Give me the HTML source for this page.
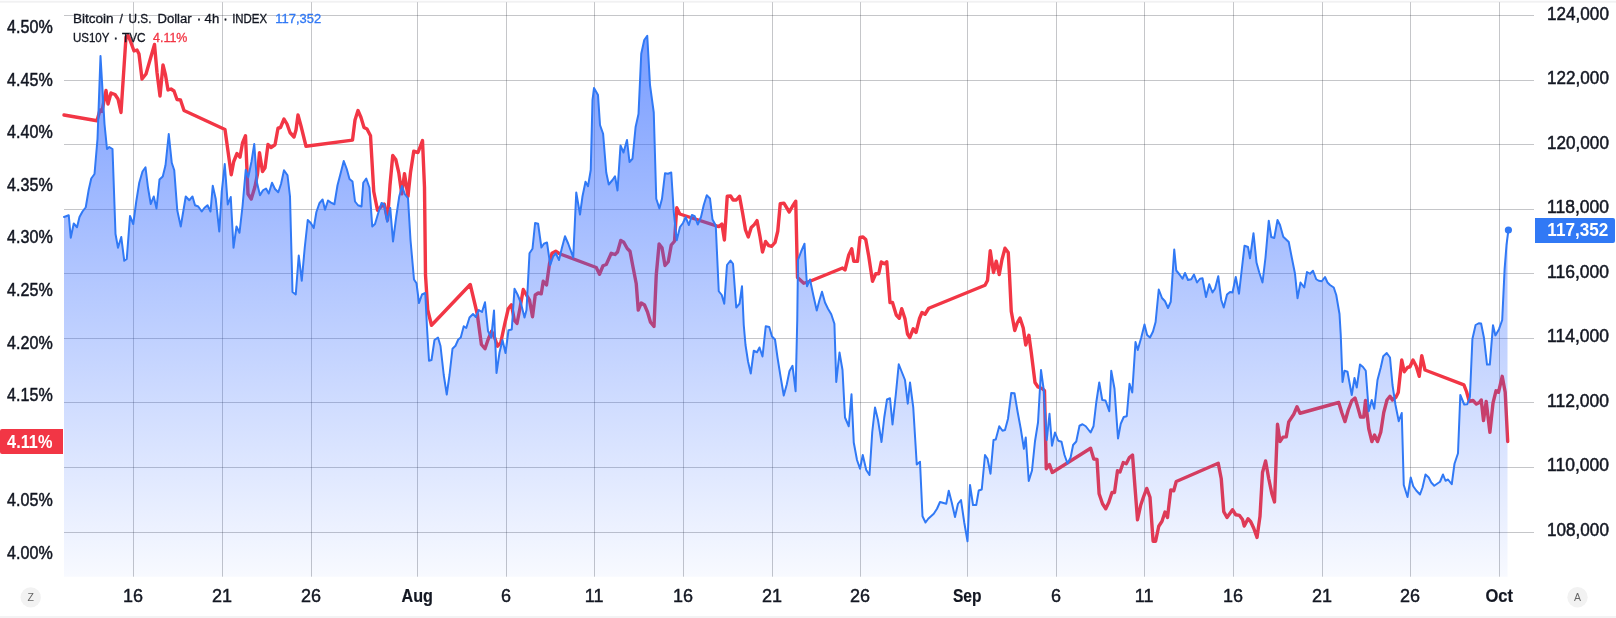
<!DOCTYPE html>
<html><head><meta charset="utf-8"><title>Chart</title>
<style>
html,body{margin:0;padding:0;background:#fff;}
body{width:1616px;height:618px;overflow:hidden;}
svg{display:block;font-family:"Liberation Sans",sans-serif;will-change:transform;}
</style></head><body>
<svg width="1616" height="618" viewBox="0 0 1616 618">
<defs><linearGradient id="ag" gradientUnits="userSpaceOnUse" x1="0" y1="0" x2="0" y2="577"><stop offset="0" stop-color="#2962ff" stop-opacity="0.662"/><stop offset="1" stop-color="#2962ff" stop-opacity="0.033"/></linearGradient></defs>
<rect x="0" y="0" width="1616" height="618" fill="#ffffff"/>
<rect x="0" y="0.8" width="1616" height="1.9" fill="#f1f1f2"/>
<rect x="0" y="616" width="1616" height="2" fill="#f3f3f4"/>
<g fill="rgba(42,46,57,0.27)">
<rect x="64" y="15" width="1470" height="1"/><rect x="64" y="80" width="1470" height="1"/><rect x="64" y="144" width="1470" height="1"/><rect x="64" y="209" width="1470" height="1"/><rect x="64" y="273" width="1470" height="1"/><rect x="64" y="338" width="1470" height="1"/><rect x="64" y="402" width="1470" height="1"/><rect x="64" y="467" width="1470" height="1"/><rect x="64" y="532" width="1470" height="1"/>
<rect x="133" y="2.2" width="1" height="574.5"/><rect x="222" y="2.2" width="1" height="574.5"/><rect x="311" y="2.2" width="1" height="574.5"/><rect x="417" y="2.2" width="1" height="574.5"/><rect x="506" y="2.2" width="1" height="574.5"/><rect x="594" y="2.2" width="1" height="574.5"/><rect x="683" y="2.2" width="1" height="574.5"/><rect x="772" y="2.2" width="1" height="574.5"/><rect x="860" y="2.2" width="1" height="574.5"/><rect x="967" y="2.2" width="1" height="574.5"/><rect x="1056" y="2.2" width="1" height="574.5"/><rect x="1144" y="2.2" width="1" height="574.5"/><rect x="1233" y="2.2" width="1" height="574.5"/><rect x="1322" y="2.2" width="1" height="574.5"/><rect x="1410" y="2.2" width="1" height="574.5"/><rect x="1499" y="2.2" width="1" height="574.5"/>
</g>
<path d="M64,115 L97,120.75 L100,110 L102,111.5 L106,90.5 L108,104 L111,93 L115,94.5 L118,99 L121,112.5 L126,37 L128,35.5 L130,40 L134,51 L137,50 L139,54 L142,79 L146,74 L150,60 L154.5,44.5 L157,72.5 L160,96 L163,65 L165.5,75 L168,90 L171,89 L174,91 L177,99.5 L180.5,100 L184,110.5 L225,129.5 L231.25,174.75 L233.75,161.5 L237,153.5 L240,157.25 L242.5,143 L245.5,135.75 L248,194 L251.25,199 L255,186.5 L257.5,174 L259.5,152.75 L262.5,171.5 L265,167.75 L268,144.5 L271,147.5 L275,144.75 L278,128.25 L280.5,127.5 L284,119 L287,124 L290,132.5 L294,137 L296,130 L298,115 L301,126 L306,146.25 L352.5,140.1 L355,120 L358,110.5 L361,117.5 L364,127.5 L367,129 L370.5,135.75 L373.75,191.5 L377.5,210.25 L381.25,206.5 L384.25,204 L387.5,220.25 L390,185 L392.75,155.5 L395.75,159.5 L398.75,172.6 L401.75,193.9 L404.5,173.75 L408,196.25 L410.5,172.5 L413.75,151.25 L418,152.5 L422.5,140.5 L424.5,187.5 L425.5,275 L427.75,310 L431.5,325.25 L470.25,284.5 L477.25,314 L481.4,344.5 L485,348.75 L488.1,339.5 L491.6,331.25 L494.75,338 L497.6,346.25 L500.75,342.5 L504.5,325 L508.25,308.75 L511.4,304.75 L514.4,320.5 L517,323.5 L520.1,307.5 L523.25,289.5 L525.75,293.75 L529.5,300 L532.5,316.75 L535.25,295 L538.25,293 L541.25,293.75 L543.25,281.25 L546.5,285 L549.5,263.75 L552,253.25 L555.75,251.25 L559.5,253.75 L596.25,267.5 L599.5,274.25 L603,265.75 L606.25,264.5 L611.25,253.25 L615,254.5 L617.5,252 L620.75,240.5 L623.75,242.25 L627.25,248.5 L630,251.25 L633,267 L636.25,283.75 L638.25,310 L641.25,303 L644.5,305 L647.5,312 L650.5,322.25 L654,326.5 L656.25,275 L659.1,244 L662,247.75 L665,265.5 L668.25,261.75 L671.25,245 L674.5,241.25 L676.75,207.75 L679.75,214 L718.75,226.6 L721.9,224 L724.4,240 L727.25,196.25 L730.6,196 L733.1,200 L736.25,200 L739.5,196.25 L742.5,212.5 L745.5,230 L748.25,237 L751.25,227.5 L754.25,224.6 L757,220.6 L760,236.5 L762.5,252 L765.6,241.5 L768.75,245.6 L771.75,246.25 L775,242.5 L777.75,231.25 L780.25,203.75 L783.9,203.1 L789.25,212 L792.5,206.25 L795.75,201.25 L797.5,277.5 L803.75,283.25 L810,281.25 L842.5,268 L845,270 L848.75,255 L851.75,248.75 L853.75,261.25 L857.5,261.25 L860,237.5 L863,237 L865.75,239.5 L868.75,256.25 L872.5,281.25 L875.75,273.75 L878.75,273.75 L881.25,262 L884.5,263.75 L886.75,261.75 L890,302.5 L892.5,302.5 L896.25,315 L899.25,318.25 L901.75,308.75 L905,318.75 L907.5,334 L909.75,337.5 L913.25,328.75 L916,332.5 L919.5,318.5 L922,312.5 L925,314.25 L928.75,308.25 L985,285.25 L987.5,280.5 L990.25,250.75 L993.5,272.5 L996.25,261.25 L999.25,274.5 L1002,259.5 L1005,248.25 L1008.25,252.5 L1009.5,275 L1011.25,311.25 L1014.75,330.5 L1017.25,323 L1020,318 L1023.25,328 L1025.75,345 L1028.9,335.25 L1031.25,352.5 L1035,382.5 L1038,387 L1042.5,388.75 L1044.5,390.75 L1046.25,468.75 L1049.5,464.5 L1052.25,472.5 L1090.6,448.25 L1093.75,459 L1097,459.4 L1099.1,493.75 L1102.5,503.75 L1105.75,508.75 L1108.75,502.5 L1112,492.5 L1114.5,492.5 L1117.5,470.75 L1120,472 L1123.25,462.5 L1126.25,463.75 L1129.4,457.5 L1132.5,455 L1135,487.5 L1137.5,519.75 L1140.75,505 L1143.75,496.25 L1146.75,488.4 L1150,497.25 L1153.1,541.25 L1155.6,541.25 L1158.75,526.25 L1162,521.25 L1165,512 L1167.5,517.5 L1170.75,490 L1173.75,490.75 L1176.25,481.5 L1218.25,463.25 L1221.25,478.75 L1223.75,511.6 L1227,517.5 L1232.5,509.75 L1235.75,514.75 L1239.5,515.4 L1242.5,519.4 L1244.25,526 L1248,518.75 L1250.75,521.75 L1253.75,528.25 L1257,537.5 L1260,516.25 L1262.5,472.5 L1265.6,461 L1268.75,478.75 L1271.75,493.25 L1274.5,502 L1277.5,424.25 L1280,441.5 L1283,437.1 L1286.25,436.9 L1288.75,421.9 L1293.75,414.25 L1297,406.75 L1300,413.25 L1338.75,402.5 L1341.75,412.5 L1345,421.6 L1348.25,410 L1351.75,400.75 L1355,398 L1357.5,406.25 L1360.5,417 L1363.75,417 L1365.5,400.5 L1368.75,428.75 L1371.9,441.6 L1374.5,435 L1377.5,441.6 L1380.75,432.25 L1383.75,412.5 L1387,400 L1390,396.25 L1392.5,400 L1395.75,397.5 L1398.25,392.5 L1401.75,360 L1404.25,371.75 L1407.5,367.5 L1410,366.75 L1413,360 L1416.25,366.25 L1419.25,376.25 L1421.75,355.75 L1425,370 L1463.9,384.8 L1466.6,391.75 L1469.3,401.5 L1473,400.5 L1476.4,404.1 L1479.4,402.6 L1481.25,400 L1483.5,420.5 L1486.2,401.5 L1489.9,432.4 L1493,403 L1496,390.8 L1498.5,392.3 L1502.2,376.3 L1505.2,392.3 L1507.7,441.5" fill="none" stroke="#f23645" stroke-width="3.4" stroke-linejoin="round" stroke-linecap="round"/>
<path d="M64,217 L68.75,215.25 L70.75,237.75 L73.75,223.5 L77,227.25 L79.5,217 L82.5,211.5 L85.75,207.25 L88.75,189.5 L91.25,178.5 L94.5,174 L97.5,139 L100.5,56 L104.5,124 L107,149 L109.25,147 L112.5,149 L115.5,234 L118,247.75 L121.25,237 L124.25,260.75 L126.75,259 L130,216 L133.25,224 L136.25,201.5 L139.25,182.75 L142.5,171.5 L145.5,167.25 L148,187.75 L150.75,204 L153.75,196.5 L156.5,208.5 L159.5,179.5 L162.75,176.5 L165.5,165.25 L168.75,134 L171.75,162.75 L174.25,170.25 L177.25,210.25 L180.75,226.5 L185.75,196.5 L189.25,200.25 L192.5,196.5 L195,205.25 L198.25,206.5 L201.75,211.5 L204.5,207.75 L207.5,205.25 L210.5,211.5 L212.75,185.75 L215.75,199 L219.25,231.5 L221.75,191.5 L224.75,164 L227.75,204.5 L230.75,197 L233.5,247.75 L236.5,226.5 L239.5,232.75 L242.5,206.5 L245.75,169.75 L248.25,177.25 L251.5,161.5 L254.25,144 L257,182.75 L260,195.25 L263,190.25 L266,188.5 L268.75,193.5 L272,182.75 L275,189 L278.25,192.25 L281,184 L284,170.25 L287.5,175.25 L290,196.5 L292.5,292 L295.75,294.5 L298.75,255.5 L301.75,280.75 L304.75,247.5 L307.75,220 L310.75,223 L313.75,228 L316.4,212 L319.4,203.25 L322.6,199.5 L325,209.75 L328,200.5 L331,202.6 L334.4,204.25 L337.5,185.25 L340.75,172.75 L343.75,161 L346.75,169 L349.5,179 L352.5,181.5 L355,201.5 L358,205.25 L361.5,206.5 L363.25,182.75 L366.25,178.5 L369.5,187.75 L372.25,226.5 L375,224 L378.25,213 L381.5,203 L384.25,204.5 L387.25,221.75 L390.25,208 L393,241.5 L396.25,216.5 L399.25,196.5 L402,186 L405,194.5 L408,198.25 L410.5,240 L414,279.5 L416.5,283.25 L419,303 L422,294.5 L425.25,293 L427,327.5 L429,360.75 L431.5,360 L434.5,340 L438,337.5 L440.5,346 L443.75,375 L446.75,394.5 L449.5,375 L452.5,348.75 L455.5,345.75 L458.25,339.5 L460.75,337.5 L463.75,326.25 L466.25,328 L469.5,317.5 L473,314 L475.75,317 L478.75,310 L482,312 L485,302.25 L488,331 L491.25,337.5 L494,310.5 L496.5,373 L499.5,352.5 L502.5,340 L505.5,353 L508.5,330.25 L511.75,329.5 L514.5,288.75 L517.5,294.5 L520.75,302.5 L524.5,317.5 L526.5,310 L529.5,253.25 L532.5,248.75 L535.1,223 L538.1,223.75 L541.4,247.5 L543.9,243.75 L547,242.5 L550.25,265 L553.25,256.25 L555.75,253.25 L559,260 L562,247.5 L565,236.25 L568.25,243.75 L573.25,257.5 L576.25,192.5 L580,214.5 L582.5,196.25 L585.5,181.75 L588,186.25 L590.75,170 L592.5,100 L594,88 L598,95 L600,125 L603.1,133.75 L606.25,172.5 L608.75,184.5 L612.5,180 L615,176.25 L617.5,190.5 L620.5,145.5 L623.5,152.5 L627,140 L629.5,162 L632.5,158.75 L635.6,127 L638.5,114 L641.25,53.75 L644.25,40 L647.25,35.75 L650,85 L653.75,112.5 L656.25,198.75 L659.4,208.4 L662,198.75 L665,173.25 L668,173.75 L671.25,172.5 L673.75,212 L676.75,240.25 L680,227 L683,223 L685.6,217.25 L688.9,225 L691.9,215 L694.75,216.25 L697.75,224.5 L701,217 L703.75,205 L706.75,195.25 L710,198.5 L712.5,219.5 L715.75,225.5 L718.75,291.25 L721.75,295 L724.25,303.75 L727,265 L730.5,260.5 L733,263.75 L736.25,307.5 L739.5,303.75 L742,286.25 L743.75,325 L745.5,345 L748,361.25 L750.75,373.5 L753.75,350.75 L757,352.25 L759.5,347.5 L762.5,356.5 L765.75,326.25 L769.25,327 L772,336.5 L775,339.5 L777.5,357.5 L780.5,376.25 L783.75,395.5 L786.75,384.5 L789.5,371 L792.5,365.75 L795.6,391.25 L797.25,320 L798,260 L801.25,251.25 L804.5,243.75 L807,286.25 L810,279.5 L813.25,295 L816.75,310.5 L819.5,300 L822,291.75 L825,302.5 L828,308.75 L831.25,314.25 L834.4,323.75 L836.25,382 L839.5,352.5 L842.5,370 L845,417.5 L848.75,426.25 L851.5,394.25 L853.75,442.5 L857,460 L860,468.75 L862.75,455 L866.25,470 L869.5,475 L872.25,432 L875,407.5 L878,420 L881.5,442 L884.25,417.5 L887,399.5 L890,398.25 L892.5,424.5 L895.75,395 L898.75,364.25 L902,372.5 L905,380 L907.75,403.75 L910,382.5 L913.25,407.5 L916.75,464.5 L920,461.75 L922.5,516.25 L925.5,522.5 L928.25,518.75 L933.75,513.75 L937,508.75 L940,502 L946.25,503.75 L948.75,490.75 L951.75,502.5 L955,517 L958,503.75 L961,500 L964.25,522.5 L967.5,541.25 L970,485 L973,505 L976.25,505 L978.75,490.5 L981.75,489.5 L985,455 L987.5,458.75 L990.5,473.75 L993.5,440 L995.75,439.5 L999.25,426.25 L1002.5,430.75 L1005,430 L1008,418.75 L1011.25,393 L1014.5,393.25 L1017.5,411.25 L1020.75,428.75 L1023.9,448.75 L1025.75,437.5 L1028.75,481 L1032,470.5 L1035,441.25 L1038,422.5 L1041,370 L1043.75,390 L1046.75,440 L1049.5,413.75 L1052,445.75 L1055,432.5 L1058.25,440.75 L1061.5,441.75 L1064.5,455 L1067.5,463.5 L1070.6,457.5 L1073.1,445 L1076.25,441.5 L1079.5,425.75 L1082.5,424.25 L1085.75,426.25 L1090.6,432.5 L1093.5,426.25 L1096.25,402.5 L1099.25,382.5 L1102.25,400 L1105.5,400.5 L1109.25,411.25 L1111.25,370.75 L1114.5,388.75 L1118,438.5 L1120.75,423.75 L1123.75,417 L1126.75,416.25 L1129.5,383.75 L1132.25,392.5 L1135.5,342 L1137.75,350 L1141.25,337.5 L1144.5,324.4 L1147.1,335 L1150,337.5 L1153,331.5 L1155.6,322 L1158.75,289.5 L1162,298 L1165,301.25 L1168,308 L1170.75,301.75 L1174.25,249.5 L1176.25,270.5 L1179.5,274.5 L1182.5,278.75 L1185,273 L1188,280 L1191.25,279.25 L1194,274.5 L1197,282.5 L1200,278.75 L1202.5,278.25 L1206,297 L1209.25,284.25 L1212.5,292.5 L1215,288.75 L1218.25,276.25 L1221.25,300 L1223.75,307.5 L1227,294.5 L1230,292 L1232.5,292.5 L1235.75,277 L1239,293.75 L1242,267.5 L1244.5,245.75 L1248,247 L1250,258.25 L1253.5,233.25 L1256.5,262.5 L1259.25,272.5 L1262.5,282.5 L1265.5,257.5 L1268.75,220.75 L1271.25,237 L1274.25,238 L1277.5,220 L1280,225 L1283.25,236.75 L1288.75,242 L1291.75,257.5 L1295,273.75 L1297.5,298.25 L1300.5,282.5 L1304.25,287.5 L1307,272 L1310,273.75 L1313,270.75 L1316.25,279.25 L1318.75,280.75 L1321.75,281.25 L1325,277 L1327.5,282.5 L1330,285 L1333.75,287.5 L1336.25,295 L1339.5,314 L1340.75,335 L1342.5,382 L1344.5,370.75 L1347.5,371.75 L1351.75,395 L1354.5,378 L1356.75,387.5 L1360,364.5 L1363,367 L1365.75,370.75 L1368.75,411.25 L1371.75,400 L1374.25,408.75 L1377.5,380 L1380.75,367.5 L1383.25,356.25 L1386.75,353 L1390,357.5 L1392.5,385 L1395.5,405 L1398.75,421.25 L1401.75,413 L1403.75,485 L1407.5,497 L1410.75,477.5 L1413.25,486.25 L1416.25,490.5 L1420,494.5 L1422.5,487.5 L1425.5,474.5 L1428.75,477.5 L1431.25,482.5 L1434.25,485.75 L1440,481.75 L1443,474.5 L1445.5,480.75 L1448,479.5 L1451.75,484.25 L1454.5,463.75 L1458,453.25 L1460.3,395 L1464.25,404.5 L1467.25,404.25 L1469.9,397 L1472.4,339 L1475.6,325 L1478.75,323.25 L1481.1,323.5 L1484,338 L1487,364.6 L1489.8,364.6 L1493,325.2 L1495.4,335.4 L1499,329.2 L1502.2,320 L1504.6,269.2 L1506.5,245 L1507.5,232 L1507.5,576.7 L64,576.7Z" fill="url(#ag)" stroke="none"/>
<path d="M64,217 L68.75,215.25 L70.75,237.75 L73.75,223.5 L77,227.25 L79.5,217 L82.5,211.5 L85.75,207.25 L88.75,189.5 L91.25,178.5 L94.5,174 L97.5,139 L100.5,56 L104.5,124 L107,149 L109.25,147 L112.5,149 L115.5,234 L118,247.75 L121.25,237 L124.25,260.75 L126.75,259 L130,216 L133.25,224 L136.25,201.5 L139.25,182.75 L142.5,171.5 L145.5,167.25 L148,187.75 L150.75,204 L153.75,196.5 L156.5,208.5 L159.5,179.5 L162.75,176.5 L165.5,165.25 L168.75,134 L171.75,162.75 L174.25,170.25 L177.25,210.25 L180.75,226.5 L185.75,196.5 L189.25,200.25 L192.5,196.5 L195,205.25 L198.25,206.5 L201.75,211.5 L204.5,207.75 L207.5,205.25 L210.5,211.5 L212.75,185.75 L215.75,199 L219.25,231.5 L221.75,191.5 L224.75,164 L227.75,204.5 L230.75,197 L233.5,247.75 L236.5,226.5 L239.5,232.75 L242.5,206.5 L245.75,169.75 L248.25,177.25 L251.5,161.5 L254.25,144 L257,182.75 L260,195.25 L263,190.25 L266,188.5 L268.75,193.5 L272,182.75 L275,189 L278.25,192.25 L281,184 L284,170.25 L287.5,175.25 L290,196.5 L292.5,292 L295.75,294.5 L298.75,255.5 L301.75,280.75 L304.75,247.5 L307.75,220 L310.75,223 L313.75,228 L316.4,212 L319.4,203.25 L322.6,199.5 L325,209.75 L328,200.5 L331,202.6 L334.4,204.25 L337.5,185.25 L340.75,172.75 L343.75,161 L346.75,169 L349.5,179 L352.5,181.5 L355,201.5 L358,205.25 L361.5,206.5 L363.25,182.75 L366.25,178.5 L369.5,187.75 L372.25,226.5 L375,224 L378.25,213 L381.5,203 L384.25,204.5 L387.25,221.75 L390.25,208 L393,241.5 L396.25,216.5 L399.25,196.5 L402,186 L405,194.5 L408,198.25 L410.5,240 L414,279.5 L416.5,283.25 L419,303 L422,294.5 L425.25,293 L427,327.5 L429,360.75 L431.5,360 L434.5,340 L438,337.5 L440.5,346 L443.75,375 L446.75,394.5 L449.5,375 L452.5,348.75 L455.5,345.75 L458.25,339.5 L460.75,337.5 L463.75,326.25 L466.25,328 L469.5,317.5 L473,314 L475.75,317 L478.75,310 L482,312 L485,302.25 L488,331 L491.25,337.5 L494,310.5 L496.5,373 L499.5,352.5 L502.5,340 L505.5,353 L508.5,330.25 L511.75,329.5 L514.5,288.75 L517.5,294.5 L520.75,302.5 L524.5,317.5 L526.5,310 L529.5,253.25 L532.5,248.75 L535.1,223 L538.1,223.75 L541.4,247.5 L543.9,243.75 L547,242.5 L550.25,265 L553.25,256.25 L555.75,253.25 L559,260 L562,247.5 L565,236.25 L568.25,243.75 L573.25,257.5 L576.25,192.5 L580,214.5 L582.5,196.25 L585.5,181.75 L588,186.25 L590.75,170 L592.5,100 L594,88 L598,95 L600,125 L603.1,133.75 L606.25,172.5 L608.75,184.5 L612.5,180 L615,176.25 L617.5,190.5 L620.5,145.5 L623.5,152.5 L627,140 L629.5,162 L632.5,158.75 L635.6,127 L638.5,114 L641.25,53.75 L644.25,40 L647.25,35.75 L650,85 L653.75,112.5 L656.25,198.75 L659.4,208.4 L662,198.75 L665,173.25 L668,173.75 L671.25,172.5 L673.75,212 L676.75,240.25 L680,227 L683,223 L685.6,217.25 L688.9,225 L691.9,215 L694.75,216.25 L697.75,224.5 L701,217 L703.75,205 L706.75,195.25 L710,198.5 L712.5,219.5 L715.75,225.5 L718.75,291.25 L721.75,295 L724.25,303.75 L727,265 L730.5,260.5 L733,263.75 L736.25,307.5 L739.5,303.75 L742,286.25 L743.75,325 L745.5,345 L748,361.25 L750.75,373.5 L753.75,350.75 L757,352.25 L759.5,347.5 L762.5,356.5 L765.75,326.25 L769.25,327 L772,336.5 L775,339.5 L777.5,357.5 L780.5,376.25 L783.75,395.5 L786.75,384.5 L789.5,371 L792.5,365.75 L795.6,391.25 L797.25,320 L798,260 L801.25,251.25 L804.5,243.75 L807,286.25 L810,279.5 L813.25,295 L816.75,310.5 L819.5,300 L822,291.75 L825,302.5 L828,308.75 L831.25,314.25 L834.4,323.75 L836.25,382 L839.5,352.5 L842.5,370 L845,417.5 L848.75,426.25 L851.5,394.25 L853.75,442.5 L857,460 L860,468.75 L862.75,455 L866.25,470 L869.5,475 L872.25,432 L875,407.5 L878,420 L881.5,442 L884.25,417.5 L887,399.5 L890,398.25 L892.5,424.5 L895.75,395 L898.75,364.25 L902,372.5 L905,380 L907.75,403.75 L910,382.5 L913.25,407.5 L916.75,464.5 L920,461.75 L922.5,516.25 L925.5,522.5 L928.25,518.75 L933.75,513.75 L937,508.75 L940,502 L946.25,503.75 L948.75,490.75 L951.75,502.5 L955,517 L958,503.75 L961,500 L964.25,522.5 L967.5,541.25 L970,485 L973,505 L976.25,505 L978.75,490.5 L981.75,489.5 L985,455 L987.5,458.75 L990.5,473.75 L993.5,440 L995.75,439.5 L999.25,426.25 L1002.5,430.75 L1005,430 L1008,418.75 L1011.25,393 L1014.5,393.25 L1017.5,411.25 L1020.75,428.75 L1023.9,448.75 L1025.75,437.5 L1028.75,481 L1032,470.5 L1035,441.25 L1038,422.5 L1041,370 L1043.75,390 L1046.75,440 L1049.5,413.75 L1052,445.75 L1055,432.5 L1058.25,440.75 L1061.5,441.75 L1064.5,455 L1067.5,463.5 L1070.6,457.5 L1073.1,445 L1076.25,441.5 L1079.5,425.75 L1082.5,424.25 L1085.75,426.25 L1090.6,432.5 L1093.5,426.25 L1096.25,402.5 L1099.25,382.5 L1102.25,400 L1105.5,400.5 L1109.25,411.25 L1111.25,370.75 L1114.5,388.75 L1118,438.5 L1120.75,423.75 L1123.75,417 L1126.75,416.25 L1129.5,383.75 L1132.25,392.5 L1135.5,342 L1137.75,350 L1141.25,337.5 L1144.5,324.4 L1147.1,335 L1150,337.5 L1153,331.5 L1155.6,322 L1158.75,289.5 L1162,298 L1165,301.25 L1168,308 L1170.75,301.75 L1174.25,249.5 L1176.25,270.5 L1179.5,274.5 L1182.5,278.75 L1185,273 L1188,280 L1191.25,279.25 L1194,274.5 L1197,282.5 L1200,278.75 L1202.5,278.25 L1206,297 L1209.25,284.25 L1212.5,292.5 L1215,288.75 L1218.25,276.25 L1221.25,300 L1223.75,307.5 L1227,294.5 L1230,292 L1232.5,292.5 L1235.75,277 L1239,293.75 L1242,267.5 L1244.5,245.75 L1248,247 L1250,258.25 L1253.5,233.25 L1256.5,262.5 L1259.25,272.5 L1262.5,282.5 L1265.5,257.5 L1268.75,220.75 L1271.25,237 L1274.25,238 L1277.5,220 L1280,225 L1283.25,236.75 L1288.75,242 L1291.75,257.5 L1295,273.75 L1297.5,298.25 L1300.5,282.5 L1304.25,287.5 L1307,272 L1310,273.75 L1313,270.75 L1316.25,279.25 L1318.75,280.75 L1321.75,281.25 L1325,277 L1327.5,282.5 L1330,285 L1333.75,287.5 L1336.25,295 L1339.5,314 L1340.75,335 L1342.5,382 L1344.5,370.75 L1347.5,371.75 L1351.75,395 L1354.5,378 L1356.75,387.5 L1360,364.5 L1363,367 L1365.75,370.75 L1368.75,411.25 L1371.75,400 L1374.25,408.75 L1377.5,380 L1380.75,367.5 L1383.25,356.25 L1386.75,353 L1390,357.5 L1392.5,385 L1395.5,405 L1398.75,421.25 L1401.75,413 L1403.75,485 L1407.5,497 L1410.75,477.5 L1413.25,486.25 L1416.25,490.5 L1420,494.5 L1422.5,487.5 L1425.5,474.5 L1428.75,477.5 L1431.25,482.5 L1434.25,485.75 L1440,481.75 L1443,474.5 L1445.5,480.75 L1448,479.5 L1451.75,484.25 L1454.5,463.75 L1458,453.25 L1460.3,395 L1464.25,404.5 L1467.25,404.25 L1469.9,397 L1472.4,339 L1475.6,325 L1478.75,323.25 L1481.1,323.5 L1484,338 L1487,364.6 L1489.8,364.6 L1493,325.2 L1495.4,335.4 L1499,329.2 L1502.2,320 L1504.6,269.2 L1506.5,245 L1508.4,230" fill="none" stroke="#3179f5" stroke-width="2" stroke-linejoin="round" stroke-linecap="round"/>
<circle cx="1508.4" cy="230" r="3.6" fill="#3179f5"/>
<g font-size="12px" fill="#131722" stroke="#131722" stroke-width="0.3">
<text x="72.9" y="22.8" textLength="40.7" lengthAdjust="spacingAndGlyphs">Bitcoin</text><text x="128.6" y="22.8" textLength="22.9" lengthAdjust="spacingAndGlyphs">U.S.</text><text x="157.5" y="22.8" textLength="34.1" lengthAdjust="spacingAndGlyphs">Dollar</text><text x="204.6" y="22.8" textLength="14.6" lengthAdjust="spacingAndGlyphs">4h</text><text x="232.2" y="22.8" textLength="34.9" lengthAdjust="spacingAndGlyphs">INDEX</text><text x="198.9" y="22.8" text-anchor="middle" stroke-width="0.6">·</text><text x="225.6" y="22.8" text-anchor="middle" stroke-width="0.6">·</text><text x="121.2" y="22.8" text-anchor="middle">/</text><text x="275.3" y="22.8" textLength="45.8" lengthAdjust="spacingAndGlyphs" fill="#3179f5" stroke="#3179f5">117,352</text>
<text x="72.9" y="41.9" textLength="36.5" lengthAdjust="spacingAndGlyphs">US10Y</text><text x="121.9" y="41.9" textLength="23.7" lengthAdjust="spacingAndGlyphs">TVC</text><text x="115.8" y="41.9" text-anchor="middle" stroke-width="0.6">·</text><text x="153.1" y="41.9" textLength="34.3" lengthAdjust="spacingAndGlyphs" fill="#f23645" stroke="#f23645">4.11%</text>
</g>
<g font-size="18px" fill="#131722" stroke="#131722" stroke-width="0.5">
<text x="7.1" y="33" textLength="45.6" lengthAdjust="spacingAndGlyphs">4.50%</text><text x="7.1" y="85.59" textLength="45.6" lengthAdjust="spacingAndGlyphs">4.45%</text><text x="7.1" y="138.18" textLength="45.6" lengthAdjust="spacingAndGlyphs">4.40%</text><text x="7.1" y="190.77" textLength="45.6" lengthAdjust="spacingAndGlyphs">4.35%</text><text x="7.1" y="243.36" textLength="45.6" lengthAdjust="spacingAndGlyphs">4.30%</text><text x="7.1" y="295.95" textLength="45.6" lengthAdjust="spacingAndGlyphs">4.25%</text><text x="7.1" y="348.54" textLength="45.6" lengthAdjust="spacingAndGlyphs">4.20%</text><text x="7.1" y="401.13" textLength="45.6" lengthAdjust="spacingAndGlyphs">4.15%</text><text x="7.1" y="506.31" textLength="45.6" lengthAdjust="spacingAndGlyphs">4.05%</text><text x="7.1" y="558.9" textLength="45.6" lengthAdjust="spacingAndGlyphs">4.00%</text>
</g>
<g font-size="18px" fill="#131722" stroke="#131722" stroke-width="0.5">
<text x="1547.1" y="19.75" textLength="61.8" lengthAdjust="spacingAndGlyphs">124,000</text><text x="1547.1" y="84.27" textLength="61.8" lengthAdjust="spacingAndGlyphs">122,000</text><text x="1547.1" y="148.79" textLength="61.8" lengthAdjust="spacingAndGlyphs">120,000</text><text x="1547.1" y="213.31" textLength="61.8" lengthAdjust="spacingAndGlyphs">118,000</text><text x="1547.1" y="277.83" textLength="61.8" lengthAdjust="spacingAndGlyphs">116,000</text><text x="1547.1" y="342.35" textLength="61.8" lengthAdjust="spacingAndGlyphs">114,000</text><text x="1547.1" y="406.87" textLength="61.8" lengthAdjust="spacingAndGlyphs">112,000</text><text x="1547.1" y="471.39" textLength="61.8" lengthAdjust="spacingAndGlyphs">110,000</text><text x="1547.1" y="535.91" textLength="61.8" lengthAdjust="spacingAndGlyphs">108,000</text>
</g>
<g font-size="18px" fill="#131722" stroke="#131722" stroke-width="0.45" text-anchor="middle">
<text x="133.1" y="601.8">16</text><text x="222.1" y="601.8">21</text><text x="311.1" y="601.8">26</text><text transform="translate(417.2,601.8) scale(0.897,1)" x="0" y="0" font-weight="bold" stroke-width="0.2">Aug</text><text x="506.1" y="601.8">6</text><text x="594.1" y="601.8">11</text><text x="683.1" y="601.8">16</text><text x="772.1" y="601.8">21</text><text x="860.1" y="601.8">26</text><text transform="translate(967.2,601.8) scale(0.864,1)" x="0" y="0" font-weight="bold" stroke-width="0.2">Sep</text><text x="1056.1" y="601.8">6</text><text x="1144.1" y="601.8">11</text><text x="1233.1" y="601.8">16</text><text x="1322.1" y="601.8">21</text><text x="1410.1" y="601.8">26</text><text transform="translate(1499.2,601.8) scale(0.917,1)" x="0" y="0" font-weight="bold" stroke-width="0.2">Oct</text>
</g>
<path d="M2,429 H63 V454 H2 Q0,454 0,452 V431 Q0,429 2,429Z" fill="#f23645"/>
<text x="7.1" y="447.8" font-size="18px" font-weight="bold" fill="#fff" textLength="45.3" lengthAdjust="spacingAndGlyphs">4.11%</text>
<path d="M1535,218 H1613 Q1615,218 1615,220 V241 Q1615,243 1613,243 H1535Z" fill="#3179f5"/>
<text x="1547.3" y="236.4" font-size="18px" font-weight="bold" fill="#fff" textLength="61" lengthAdjust="spacingAndGlyphs">117,352</text>
<circle cx="30.7" cy="597.4" r="10.2" fill="#f2f2f2"/><text x="30.7" y="601.2" font-size="10.5px" fill="#666" text-anchor="middle">Z</text>
<circle cx="1577.5" cy="597.3" r="10.2" fill="#f2f2f2"/><text x="1577.5" y="601.2" font-size="10.5px" fill="#666" text-anchor="middle">A</text>
</svg>
</body></html>
